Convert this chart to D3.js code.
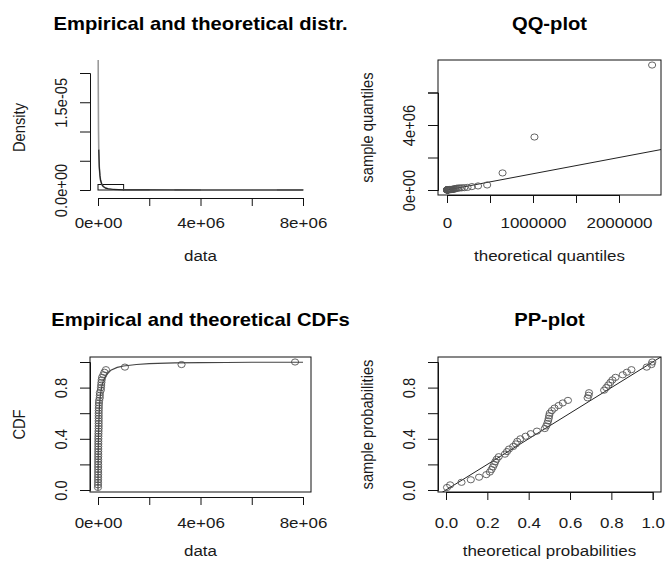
<!DOCTYPE html>
<html>
<head>
<meta charset="utf-8">
<script src="https://cdn.jsdelivr.net/npm/d3@7/dist/d3.min.js"></script>
<style>
  body { margin: 0; background: #fff; }
  svg { display: block; }
  text { font-family: "Liberation Sans", Arial, Helvetica, sans-serif; fill: #1a1a1a; }
</style>
</head>
<body>
<svg id="chart" width="665" height="562"></svg>
<script>
// ---- observations (sorted) ----
const sampleValues = [195, 532, 1730, 2880, 4070, 5260, 5910, 6230, 6510, 6770,
  6980, 7290, 7750, 9220, 9750, 10300, 11500, 12300, 12800, 13800,
  15700, 17700, 20500, 24700, 25500, 26200, 26700, 27100, 27300, 27700,
  29100, 31000, 34100, 37600, 42600, 69300, 71200, 72000, 110000, 117000,
  125000, 133500, 143000, 159000, 209000, 250000, 310000, 1050000, 3260000, 7690000];

// fitted CDF evaluated at each observation
const theoProb = [0.005, 0.02, 0.075, 0.12, 0.16, 0.195, 0.212, 0.22, 0.227, 0.233,
  0.238, 0.245, 0.255, 0.285, 0.295, 0.305, 0.325, 0.338, 0.345, 0.36,
  0.385, 0.41, 0.44, 0.478, 0.485, 0.49, 0.494, 0.497, 0.499, 0.502,
  0.512, 0.525, 0.545, 0.565, 0.59, 0.685, 0.69, 0.692, 0.765, 0.775,
  0.785, 0.795, 0.805, 0.82, 0.855, 0.875, 0.897, 0.971, 0.994, 0.998];

// fitted quantiles at the plotting positions
const theoQuantiles = [316, 742, 1167, 1614, 2091, 2603, 3161, 3757, 4396, 5086,
  5840, 6640, 7520, 8460, 9490, 10590, 11790, 13100, 14510, 16060,
  17710, 19570, 21550, 23770, 26180, 28810, 31710, 34970, 38490, 42550,
  46920, 51930, 57490, 63920, 71170, 79440, 89120, 100200, 113500, 129100,
  148200, 171500, 200700, 238500, 289600, 360600, 467200, 646000, 1017000, 2385000];

// fitted density curve
const densX = [0, 5e3, 1e4, 2e4, 3e4, 5e4, 7.5e4, 1e5, 1.5e5, 2e5, 3e5, 4e5, 6e5, 1e6, 2e6, 4e6, 8e6];
const densY = [6e-5, 2.8e-5, 1.81e-5, 1.02e-5, 6.9e-6, 3.96e-6, 2.5e-6, 1.66e-6, 9.5e-7, 6.1e-7,
  3.2e-7, 1.96e-7, 9e-8, 3.6e-8, 7e-9, 1.2e-9, 1.5e-10];

// fitted CDF curve
const cdfX = [0, 1e4, 2e4, 3e4, 5e4, 7.5e4, 1e5, 1.5e5, 2e5, 3e5, 5e5, 7.5e5, 1e6,
  1.5e6, 2e6, 3e6, 4e6, 5e6, 6e6, 7e6, 8e6];
const cdfY = [0, 0.299, 0.434, 0.518, 0.622, 0.700, 0.750, 0.812, 0.849, 0.893, 0.935, 0.958, 0.969,
  0.981, 0.987, 0.9928, 0.9953, 0.9966, 0.9975, 0.9980, 0.9984];

// histogram breaks
const binBreaks = [0, 1e6, 2e6, 3e6, 4e6, 5e6, 6e6, 7e6, 8e6];

// axis ticks and labels
const dataTicks = [0, 2e6, 4e6, 6e6, 8e6];
const dataLabels = ["0e+00", "", "4e+06", "", "8e+06"];
const densTicks = [0, 5e-6, 1e-5, 1.5e-5, 2e-5];
const densLabels = ["0.0e+00", "", "", "1.5e-05", ""];
const qqXTicks = [0, 5e5, 1e6, 1.5e6, 2e6];
const qqXLabels = ["0", "", "1000000", "", "2000000"];
const qqYTicks = [0, 2e6, 4e6, 6e6];
const qqYLabels = ["0e+00", "", "4e+06", ""];
const probTicks = [0, 0.2, 0.4, 0.6, 0.8, 1.0];
const cdfYLabels = ["0.0", "", "0.4", "", "0.8", ""];
const ppXLabels = ["0.0", "0.2", "0.4", "0.6", "0.8", "1.0"];
const ppYLabels = ["0.0", "", "0.4", "", "0.8", ""];

const titles = ["Empirical and theoretical distr.", "QQ-plot", "Empirical and theoretical CDFs", "PP-plot"];

// ---- layout ----
const SX = 1.155;          // horizontal aspect of text and symbols
const FS = 14.7, TFS = 17.5;
const svg = d3.select("#chart");

const P = {
  hist: { x0: 90, x1: 311, y0: 60, y1: 195 },
  qq:   { x0: 438, x1: 661, y0: 60, y1: 195 },
  cdf:  { x0: 90, x1: 311, y0: 357, y1: 492 },
  pp:   { x0: 438, x1: 661, y0: 357, y1: 492 }
};

const n = sampleValues.length;
const ecdf = sampleValues.map((d, i) => (i + 1) / n);

// scales
const xHist = d3.scaleLinear().domain([0, 8e6]).range([98, 303]);
const yHist = d3.scaleLinear().domain([0, 2e-5]).range([190, 73]);
const xQQ = d3.scaleLinear().domain([0, 2e6]).range([447, 619]);
const yQQ = d3.scaleLinear().domain([0, 6e6]).range([190, 92.5]);
const xCdf = d3.scaleLinear().domain([0, 8e6]).range([98, 303]);
const yCdf = d3.scaleLinear().domain([0, 1]).range([490, 362]);
const xPP = d3.scaleLinear().domain([0, 1]).range([446, 652.7]);
const yPP = d3.scaleLinear().domain([0, 1]).range([490, 362]);

// clip paths for plot regions
const defs = svg.append("defs");
Object.entries(P).forEach(([k, r]) => {
  defs.append("clipPath").attr("id", "clip-" + k)
    .append("rect").attr("x", r.x0).attr("y", r.y0)
    .attr("width", r.x1 - r.x0).attr("height", r.y1 - r.y0);
});

function label(g, x, y, str, opts = {}) {
  const t = g.append("text")
    .attr("transform", `translate(${x},${y}) scale(${SX},1)` + (opts.rot ? ` rotate(${opts.rot})` : ""))
    .attr("text-anchor", "middle")
    .attr("font-size", opts.size || FS)
    .text(str);
  if (opts.bold) t.attr("font-weight", "bold").style("fill", "#000");
  return t;
}

function bottomAxis(scale, ticks, labels, y, labelY) {
  const ax = svg.append("g").attr("transform", `translate(0,${y})`)
    .call(d3.axisBottom(scale).tickValues(ticks).tickFormat((d, i) => labels[i])
      .tickSizeOuter(0).tickSize(8));
  ax.attr("font-size", null).attr("font-family", null);
  ax.selectAll("path,line").attr("stroke", "#111").attr("stroke-width", 1);
  ax.selectAll("text").attr("y", null).attr("dy", null)
    .attr("font-size", FS)
    .attr("transform", `translate(0,${labelY - y}) scale(${SX},1)`);
}

function leftAxis(scale, ticks, labels, x) {
  const ax = svg.append("g").attr("transform", `translate(${x},0)`)
    .call(d3.axisLeft(scale).tickValues(ticks).tickFormat((d, i) => labels[i])
      .tickSizeOuter(0).tickSize(10));
  ax.attr("font-size", null).attr("font-family", null);
  ax.selectAll("path,line").attr("stroke", "#111").attr("stroke-width", 1);
  ax.selectAll("text").attr("x", null).attr("dy", null)
    .attr("font-size", FS).attr("text-anchor", "middle")
    .attr("transform", `translate(-23.5,0) scale(${SX},1) rotate(-90)`);
}

function box(r) {
  svg.append("rect").attr("x", r.x0).attr("y", r.y0)
    .attr("width", r.x1 - r.x0).attr("height", r.y1 - r.y0)
    .attr("fill", "none").attr("stroke", "#111").attr("stroke-width", 1);
}

function circles(g, xs, ys, xScale, yScale) {
  g.selectAll(null).data(xs).join("ellipse")
    .attr("cx", (d) => xScale(d))
    .attr("cy", (d, i) => yScale(ys[i]))
    .attr("rx", 3.6).attr("ry", 3.1)
    .attr("fill", "none").attr("stroke", "#555").attr("stroke-width", 0.9);
}

const row1Title = 30, row2Title = 325.5;
const row1Lab = 228, row2Lab = 527.5;
const row1XT = 261, row2XT = 556;

// ---- panel 1: histogram with fitted density ----
{
  const r = P.hist;
  const bins = d3.bin().domain([0, 8e6]).thresholds(binBreaks.slice(1, -1))(sampleValues);
  const g = svg.append("g").attr("clip-path", "url(#clip-hist)");
  g.selectAll(null).data(bins).join("rect")
    .attr("x", (b) => xHist(b.x0))
    .attr("width", (b) => xHist(b.x1) - xHist(b.x0))
    .attr("y", (b) => yHist(b.length / (n * (b.x1 - b.x0))))
    .attr("height", (b) => yHist(0) - yHist(b.length / (n * (b.x1 - b.x0))))
    .attr("fill", "none").attr("stroke", "#111").attr("stroke-width", 1);
  const pts = densX.map((d, i) => [d, densY[i]]);
  const line = d3.line().x((d) => xHist(d[0])).y((d) => yHist(d[1]));
  g.append("path").attr("d", line(pts))
    .attr("fill", "none").attr("stroke", "#9a9a9a").attr("stroke-width", 1.6);
  g.append("path").attr("d", line(pts.filter((d) => d[1] < 8e-6)))
    .attr("fill", "none").attr("stroke", "#222").attr("stroke-width", 1.2);
  bottomAxis(xHist, dataTicks, dataLabels, 198, row1Lab);
  leftAxis(yHist, densTicks, densLabels, r.x0);
  label(svg, (r.x0 + r.x1) / 2, row1Title, titles[0], { bold: true, size: TFS });
  label(svg, (r.x0 + r.x1) / 2, row1XT, "data");
  label(svg, r.x0 - 65, (r.y0 + r.y1) / 2, "Density", { rot: -90 });
}

// ---- panel 2: QQ-plot ----
{
  const r = P.qq;
  const g = svg.append("g").attr("clip-path", "url(#clip-qq)");
  g.append("line")
    .attr("x1", xQQ(0)).attr("y1", yQQ(0))
    .attr("x2", xQQ(3e6)).attr("y2", yQQ(3e6))
    .attr("stroke", "#222").attr("stroke-width", 1);
  circles(g, theoQuantiles, sampleValues, xQQ, yQQ);
  box(r);
  bottomAxis(xQQ, qqXTicks, qqXLabels, r.y1, row1Lab);
  leftAxis(yQQ, qqYTicks, qqYLabels, r.x0);
  label(svg, (r.x0 + r.x1) / 2, row1Title, titles[1], { bold: true, size: TFS });
  label(svg, (r.x0 + r.x1) / 2, row1XT, "theoretical quantiles");
  label(svg, r.x0 - 65, (r.y0 + r.y1) / 2, "sample quantiles", { rot: -90 });
}

// ---- panel 3: empirical and fitted CDF ----
{
  const r = P.cdf;
  const g = svg.append("g").attr("clip-path", "url(#clip-cdf)");
  circles(g, sampleValues, ecdf, xCdf, yCdf);
  const line = d3.line().x((d, i) => xCdf(d)).y((d, i) => yCdf(cdfY[i]));
  g.append("path").attr("d", line(cdfX))
    .attr("fill", "none").attr("stroke", "#444").attr("stroke-width", 1.1);
  box(r);
  bottomAxis(xCdf, dataTicks, dataLabels, 497, row2Lab);
  leftAxis(yCdf, probTicks, cdfYLabels, r.x0);
  label(svg, (r.x0 + r.x1) / 2, row2Title, titles[2], { bold: true, size: TFS });
  label(svg, (r.x0 + r.x1) / 2, row2XT, "data");
  label(svg, r.x0 - 65, (r.y0 + r.y1) / 2, "CDF", { rot: -90 });
}

// ---- panel 4: PP-plot ----
{
  const r = P.pp;
  const g = svg.append("g").attr("clip-path", "url(#clip-pp)");
  g.append("line")
    .attr("x1", xPP(-0.1)).attr("y1", yPP(-0.1))
    .attr("x2", xPP(1.1)).attr("y2", yPP(1.1))
    .attr("stroke", "#222").attr("stroke-width", 1);
  circles(g, theoProb, ecdf, xPP, yPP);
  box(r);
  bottomAxis(xPP, probTicks, ppXLabels, r.y1, row2Lab);
  leftAxis(yPP, probTicks, ppYLabels, r.x0);
  label(svg, (r.x0 + r.x1) / 2, row2Title, titles[3], { bold: true, size: TFS });
  label(svg, (r.x0 + r.x1) / 2, row2XT, "theoretical probabilities");
  label(svg, r.x0 - 65, (r.y0 + r.y1) / 2, "sample probabilities", { rot: -90 });
}
</script>
</body>
</html>
